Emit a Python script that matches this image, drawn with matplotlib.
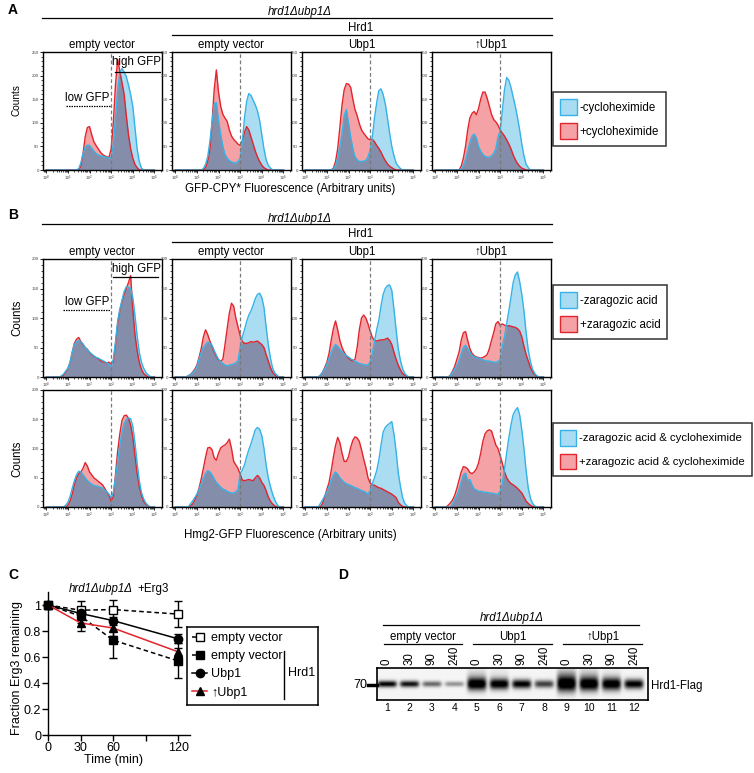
import numpy as np
import matplotlib
matplotlib.use("Agg")
import matplotlib.pyplot as plt
from matplotlib.lines import Line2D
from matplotlib.patches import Patch
from matplotlib.ticker import MultipleLocator, LogLocator, LogFormatterMathtext, NullFormatter

plt.rcParams['font.family'] = ['Liberation Sans', 'DejaVu Sans']
plt.rcParams['mathtext.fontset'] = 'custom'
plt.rcParams['mathtext.rm'] = 'Liberation Sans'

W, H = 754, 773

# ---- flow cytometry histograms: counts at log10(fluorescence) = start, start+0.1, ...
LOG_BINS = np.linspace(0, 5, 51)

# A: GFP-CPY*, -/+ cycloheximide
a_ev_minus = (1.4, [0, 3, 15, 35, 48, 53, 52, 46, 40, 35, 32, 30, 29, 28, 27, 26, 26, 55, 110, 170,
                    205, 215, 208, 198, 180, 160, 135, 90, 45, 18, 4, 0])
a_ev_plus = (1.5, [0, 8, 35, 70, 90, 92, 75, 60, 52, 45, 38, 33, 30, 28, 27, 45, 100, 180, 235, 210,
                   185, 160, 115, 75, 45, 25, 12, 5, 0])
a_hev_minus = (1.2, [0, 3, 12, 28, 60, 100, 140, 143, 105, 75, 50, 33, 25, 20, 17, 15, 15, 18, 25, 60,
                     110, 145, 162, 158, 148, 138, 125, 105, 75, 45, 22, 10, 4, 0])
a_hev_plus = (1.3, [0, 5, 18, 42, 100, 170, 212, 165, 135, 118, 110, 103, 85, 72, 65, 60, 55, 52, 62,
                    80, 92, 85, 70, 55, 40, 28, 18, 10, 5, 2, 0])
a_ubp_minus = (1.2, [0, 3, 10, 25, 50, 78, 115, 128, 100, 70, 45, 28, 22, 18, 18, 19, 20, 28, 42, 70,
                     110, 142, 168, 172, 160, 140, 110, 78, 50, 30, 15, 8, 3, 0])
a_ubp_plus = (1.2, [0, 4, 18, 45, 90, 138, 170, 183, 182, 175, 150, 128, 115, 98, 85, 78, 72, 66, 64,
                    65, 60, 52, 46, 38, 28, 20, 13, 8, 5, 2, 0])
a_up_minus = (1.1, [0, 2, 10, 22, 40, 58, 72, 76, 68, 50, 40, 33, 29, 27, 27, 30, 35, 45, 70, 82, 125,
                    170, 196, 190, 175, 155, 135, 112, 85, 55, 30, 12, 5, 0])
a_up_plus = (1.1, [0, 8, 25, 50, 85, 110, 120, 124, 117, 130, 150, 165, 165, 152, 135, 118, 107, 102,
                   95, 85, 78, 72, 64, 55, 45, 32, 22, 14, 8, 4, 2, 0])

# B: Hmg2-GFP, -/+ zaragozic acid
b_ev_minus = (0.6, [0, 2, 5, 10, 15, 25, 42, 55, 60, 62, 60, 56, 50, 46, 42, 39, 36, 33, 32, 30, 28,
                    26, 24, 21, 18, 30, 60, 95, 115, 130, 145, 153, 152, 150, 135, 105, 70, 42, 25,
                    15, 8, 4, 1, 0])
b_ev_plus = (0.7, [0, 3, 8, 14, 24, 42, 57, 64, 67, 60, 55, 50, 47, 42, 38, 35, 33, 31, 28, 26, 25,
                   24, 25, 22, 25, 55, 90, 112, 128, 140, 150, 160, 172, 115, 72, 45, 25, 13, 6, 3, 0])
b_hev_minus = (0.5, [0, 2, 4, 7, 11, 18, 30, 42, 50, 55, 59, 57, 54, 45, 37, 30, 26, 23, 20, 19, 20,
                     21, 22, 24, 28, 50, 68, 80, 94, 105, 112, 122, 133, 140, 142, 135, 118, 85, 55,
                     32, 15, 7, 3, 0])
b_hev_plus = (0.5, [0, 2, 4, 8, 13, 20, 33, 48, 68, 80, 72, 61, 52, 42, 35, 29, 27, 30, 55, 82, 108,
                    125, 120, 100, 85, 70, 60, 57, 57, 58, 60, 59, 60, 61, 58, 55, 50, 38, 27, 16, 8,
                    4, 1, 0])
b_ubp_minus = (0.6, [0, 3, 8, 14, 22, 32, 42, 50, 55, 52, 47, 43, 39, 36, 34, 31, 29, 27, 25, 23, 22,
                     21, 20, 21, 25, 40, 60, 80, 96, 120, 140, 150, 155, 156, 147, 115, 80, 48, 28,
                     14, 6, 2, 0])
b_ubp_plus = (0.6, [0, 3, 8, 16, 25, 40, 62, 82, 95, 80, 62, 50, 42, 36, 32, 29, 27, 30, 50, 80, 100,
                    105, 100, 90, 78, 67, 62, 61, 62, 63, 63, 64, 66, 62, 55, 42, 30, 20, 12, 6, 3,
                    1, 0])
b_up_minus = (0.6, [0, 3, 8, 14, 20, 28, 40, 50, 54, 48, 42, 37, 34, 33, 32, 31, 29, 28, 27, 27, 26,
                    25, 25, 26, 30, 52, 68, 90, 112, 135, 160, 173, 178, 162, 140, 112, 75, 45, 26,
                    13, 6, 2, 0])
b_up_plus = (0.6, [0, 3, 10, 18, 30, 42, 62, 75, 77, 62, 48, 40, 36, 34, 33, 32, 33, 35, 38, 48, 62,
                   75, 90, 94, 88, 90, 88, 86, 87, 86, 85, 84, 82, 78, 68, 52, 38, 27, 16, 9, 4, 1, 0])

# B (lower row): -/+ zaragozic acid & cycloheximide
c_ev_minus = (0.8, [0, 3, 8, 18, 32, 45, 55, 61, 60, 55, 50, 45, 42, 39, 37, 36, 35, 34, 32, 29, 26,
                    22, 16, 25, 50, 78, 105, 128, 143, 150, 152, 151, 138, 110, 75, 45, 25, 14, 7, 3, 0])
c_ev_plus = (0.9, [0, 3, 10, 22, 38, 50, 57, 60, 66, 76, 70, 60, 55, 50, 47, 44, 41, 38, 32, 26, 20,
                   10, 18, 55, 95, 125, 148, 156, 157, 152, 140, 120, 88, 58, 35, 20, 10, 5, 2, 0])
c_hev_minus = (0.6, [0, 5, 10, 16, 22, 30, 40, 49, 57, 62, 60, 55, 48, 42, 38, 34, 31, 29, 27, 25,
                     24, 24, 26, 30, 58, 63, 72, 86, 98, 108, 120, 132, 136, 133, 122, 100, 72, 50,
                     35, 22, 12, 5, 0])
c_hev_plus = (0.6, [0, 2, 5, 12, 20, 32, 48, 66, 85, 101, 102, 98, 84, 80, 92, 101, 104, 106, 110,
                    116, 100, 78, 72, 66, 56, 46, 45, 46, 47, 46, 45, 50, 54, 50, 42, 37, 28, 17, 10,
                    5, 2, 0])
c_ubp_minus = (0.6, [0, 6, 12, 19, 26, 35, 46, 55, 60, 56, 50, 46, 42, 40, 38, 37, 35, 33, 32, 30,
                     28, 27, 25, 22, 28, 40, 50, 62, 80, 105, 128, 136, 140, 143, 146, 125, 95, 58,
                     35, 16, 6, 2, 0])
c_ubp_plus = (0.7, [0, 6, 18, 30, 42, 62, 85, 105, 119, 110, 92, 78, 78, 86, 102, 114, 120, 118, 112,
                    98, 82, 68, 50, 41, 38, 37, 35, 33, 32, 30, 28, 26, 24, 22, 19, 16, 8, 4, 1, 0])
c_up_minus = (0.7, [0, 6, 13, 20, 30, 43, 55, 58, 45, 47, 38, 31, 29, 27, 27, 26, 25, 25, 24, 24, 23,
                    22, 22, 27, 40, 65, 92, 118, 140, 158, 165, 170, 158, 132, 100, 62, 32, 15, 6, 2, 0])
c_up_plus = (0.5, [0, 3, 7, 12, 20, 32, 46, 60, 69, 68, 65, 59, 57, 60, 65, 75, 92, 112, 125, 130, 132,
                   130, 118, 106, 100, 88, 75, 60, 50, 44, 40, 38, 35, 32, 28, 24, 17, 10, 6, 3, 1, 0])

hist_titles = ["empty vector", "empty vector", "Ubp1", "\u2191Ubp1"]

# ---- C: Erg3 degradation
time_min = [0, 30, 60, 120]
erg3_ev = [1.0, 0.96, 0.965, 0.93]
erg3_ev_err = [0, 0.07, 0.07, 0.10]
erg3_hrd1_ev = [1.0, 0.915, 0.73, 0.57]
erg3_hrd1_ev_err = [0, 0.05, 0.14, 0.135]
erg3_hrd1_ubp1 = [1.0, 0.935, 0.88, 0.74]
erg3_hrd1_ubp1_err = [0, 0.04, 0.03, 0.035]
erg3_hrd1_ubp1_up = [1.0, 0.862, 0.823, 0.64]
erg3_hrd1_ubp1_up_err = [0, 0.065, 0.06, 0.03]

# ---- D: Hrd1-Flag western blot
lanes = list(range(1, 13))
lane_times = ["0", "30", "90", "240"] * 3
lane_groups = ["empty vector", "Ubp1", "\u2191Ubp1"]
band_intensity = [0.88, 0.82, 0.5, 0.35, 1.0, 0.95, 0.9, 0.65, 1.0, 1.0, 0.97, 0.9]
band_thickness = [0.10, 0.10, 0.09, 0.08, 0.20, 0.17, 0.14, 0.12, 0.25, 0.22, 0.2, 0.15]
band_haze = [0, 0, 0, 0, 0.12, 0.06, 0, 0, 0.22, 0.15, 0.05, 0]

RED_LINE = '#e2242c'
RED_FILL = '#f5a2a6'
BLUE_LINE = '#35b3e6'
BLUE_FILL = '#43b2e4'
SLATE = '#4a5a80'

fig = plt.figure(figsize=(W / 100, H / 100), dpi=100)


def add_ax(l, t, r, b):
    return fig.add_axes([l / W, 1 - b / H, (r - l) / W, (b - t) / H])


def ftext(x, y, s, **kw):
    kw.setdefault('ha', 'center')
    kw.setdefault('va', 'center')
    fig.text(x / W, 1 - y / H, s, **kw)


def fline(x0, x1, y0, y1=None, **kw):
    y1 = y0 if y1 is None else y1
    kw.setdefault('color', 'black')
    kw.setdefault('lw', 0.9)
    fig.add_artist(Line2D([x0 / W, x1 / W], [1 - y0 / H, 1 - y1 / H], **kw))


def counts(series):
    start, vals = series
    out = np.zeros(len(LOG_BINS))
    i = int(round(start * 10))
    out[i:i + len(vals)] = vals
    return out


def flow_panel(ax, minus, plus, ymax):
    xs = 10 ** LOG_BINS
    b = counts(minus)
    r = counts(plus)
    ax.fill_between(xs, r, color=RED_FILL, lw=0)
    ax.plot(xs, r, color=RED_LINE, lw=1.0)
    ax.fill_between(xs, b, color=BLUE_FILL, alpha=0.45, lw=0)
    ax.fill_between(xs, np.minimum(b, r), color=SLATE, alpha=0.35, lw=0)
    ax.plot(xs, b, color=BLUE_LINE, lw=1.0)
    ax.axvline(1e3, color='#7a7a7a', ls=(0, (3, 2)), lw=0.9)
    ax.set_xscale('log')
    ax.set_xlim(10 ** -0.15, 10 ** 5.35)
    ax.set_ylim(0, ymax)
    ax.xaxis.set_major_locator(LogLocator(base=10, numticks=10))
    ax.xaxis.set_major_formatter(LogFormatterMathtext())
    ax.xaxis.set_minor_locator(LogLocator(base=10, subs=np.arange(2, 10), numticks=10))
    ax.xaxis.set_minor_formatter(NullFormatter())
    ax.yaxis.set_major_locator(MultipleLocator(50))
    ax.yaxis.set_minor_locator(MultipleLocator(10))
    ax.tick_params(which='major', direction='out', length=2.5, width=0.6, labelsize=3.2, pad=0.3,
                   labelcolor='#444444')
    ax.tick_params(which='minor', direction='out', length=1.3, width=0.5)
    for s in ax.spines.values():
        s.set_linewidth(1.0)


# ================= A =================
colsx = [(43, 162), (172, 291), (302, 421), (432, 551)]
rowA = [(a_ev_minus, a_ev_plus), (a_hev_minus, a_hev_plus),
        (a_ubp_minus, a_ubp_plus), (a_up_minus, a_up_plus)]
axA = []
for (l, r), (mi, pl), title in zip(colsx, rowA, hist_titles):
    ax = add_ax(l, 52, r, 170)
    flow_panel(ax, mi, pl, 250)
    ftext((l + r) / 2, 45, title, fontsize=8.3)
    axA.append(ax)

ftext(8, 10, "A", fontsize=10, fontweight='bold', ha='left')
ftext(300, 12, "hrd1\u0394ubp1\u0394", fontsize=8.3, style='italic')
fline(42, 552, 18)
ftext(361, 28, "Hrd1", fontsize=8.3)
fline(172, 552, 35)
ftext(17, 100, "Counts", fontsize=7.2, rotation=90)
ftext(290, 189, "GFP-CPY* Fluorescence (Arbitrary units)", fontsize=8.3)

ax = axA[0]
ax.plot([10 ** 0.92, 10 ** 2.95], [135, 135], color='black', ls=(0, (1.2, 0.8)), lw=0.9)
ax.text(10 ** 2.92, 152, "low GFP", fontsize=8.3, ha='right', va='center')
ax.plot([10 ** 3.17, 10 ** 5.25], [208, 208], color='black', lw=0.9)
ax.text(10 ** 3.05, 229, "high GFP", fontsize=8.3, ha='left', va='center')

legend_kw = dict(loc='upper left', frameon=True, fancybox=False, edgecolor='black',
                 fontsize=8.3, handlelength=1.45, handleheight=1.75, handletextpad=0.25,
                 labelspacing=0.7, borderpad=0.6, borderaxespad=0)


def patch_handles():
    return [Patch(facecolor='#a9dcf3', edgecolor=BLUE_LINE, lw=1.0),
            Patch(facecolor=RED_FILL, edgecolor=RED_LINE, lw=1.0)]


leg = fig.legend(patch_handles(), ["-cycloheximide", "+cycloheximide"],
                 bbox_to_anchor=(553 / W, 1 - 92 / H), **legend_kw)
leg.get_frame().set_linewidth(1.1)

# ================= B =================
rowB1 = [(b_ev_minus, b_ev_plus), (b_hev_minus, b_hev_plus),
         (b_ubp_minus, b_ubp_plus), (b_up_minus, b_up_plus)]
rowB2 = [(c_ev_minus, c_ev_plus), (c_hev_minus, c_hev_plus),
         (c_ubp_minus, c_ubp_plus), (c_up_minus, c_up_plus)]
axB = []
for (l, r), (mi, pl), title in zip(colsx, rowB1, hist_titles):
    ax = add_ax(l, 259, r, 377)
    flow_panel(ax, mi, pl, 200)
    ftext((l + r) / 2, 252, title, fontsize=8.3)
    axB.append(ax)
for (l, r), (mi, pl) in zip(colsx, rowB2):
    ax = add_ax(l, 390, r, 507)
    flow_panel(ax, mi, pl, 200)

ftext(8, 215, "B", fontsize=10, fontweight='bold', ha='left')
ftext(300, 219, "hrd1\u0394ubp1\u0394", fontsize=8.3, style='italic')
fline(42, 552, 224)
ftext(361, 234, "Hrd1", fontsize=8.3)
fline(172, 552, 242)
ftext(17, 318, "Counts", fontsize=8.3, rotation=90)
ftext(17, 459, "Counts", fontsize=8.3, rotation=90)
ftext(290, 535, "Hmg2-GFP Fluorescence (Arbitrary units)", fontsize=8.3)

ax = axB[0]
ax.plot([10 ** 0.77, 10 ** 2.95], [114, 114], color='black', ls=(0, (1.2, 0.8)), lw=0.9)
ax.text(10 ** 2.92, 127, "low GFP", fontsize=8.3, ha='right', va='center')
ax.plot([10 ** 3.08, 10 ** 5.16], [169, 169], color='black', lw=0.9)
ax.text(10 ** 3.02, 183, "high GFP", fontsize=8.3, ha='left', va='center')

leg = fig.legend(patch_handles(), ["-zaragozic acid", "+zaragozic acid"],
                 bbox_to_anchor=(553 / W, 1 - 285 / H), **legend_kw)
leg.get_frame().set_linewidth(1.1)
leg = fig.legend(patch_handles(), ["-zaragozic acid & cycloheximide", "+zaragozic acid & cycloheximide"],
                 bbox_to_anchor=(553 / W, 1 - 423 / H), **dict(legend_kw, fontsize=8.2))
leg.get_frame().set_linewidth(1.1)

# ================= C =================
axC = add_ax(48, 592, 190, 735)
series = [
    (erg3_ev, erg3_ev_err, dict(color='black', ls=(0, (3, 2)), marker='s', mfc='white')),
    (erg3_hrd1_ev, erg3_hrd1_ev_err, dict(color='black', ls=(0, (3, 2)), marker='s', mfc='black')),
    (erg3_hrd1_ubp1, erg3_hrd1_ubp1_err, dict(color='black', ls='-', marker='o', mfc='black')),
    (erg3_hrd1_ubp1_up, erg3_hrd1_ubp1_up_err, dict(color=RED_LINE, ls='-', marker='^', mfc='black')),
]
for vals, err, st in series:
    axC.errorbar(time_min, vals, yerr=err, ecolor='black', elinewidth=1.0, capsize=3, capthick=1.0,
                 mec='black', ms=6, lw=1.1, clip_on=False, zorder=3, **st)
axC.set_xlim(0, 131)
axC.set_ylim(0, 1.1)
axC.set_xticks([0, 30, 60, 90, 120])
axC.set_xticklabels(["0", "30", "60", "", "120"])
axC.set_yticks([0, 0.2, 0.4, 0.6, 0.8, 1.0])
axC.set_yticklabels(["0", "0.2", "0.4", "0.6", "0.8", "1"])
axC.spines['top'].set_visible(False)
axC.spines['right'].set_visible(False)
for s in ['left', 'bottom']:
    axC.spines[s].set_linewidth(1.0)
axC.tick_params(direction='out', length=4, width=1.0, labelsize=9, pad=1)

ftext(8, 575, "C", fontsize=10, fontweight='bold', ha='left')
ftext(133, 589, "hrd1\u0394ubp1\u0394", fontsize=8.3, style='italic', ha='right')
ftext(137, 589, "+Erg3", fontsize=8.3, ha='left')
ftext(113, 760, "Time (min)", fontsize=9)
ftext(17, 668, "Fraction Erg3 remaining", fontsize=9, rotation=90)

axL = add_ax(187, 627, 318, 705)
axL.set_xticks([])
axL.set_yticks([])
for s in axL.spines.values():
    s.set_linewidth(1.1)
handles = [Line2D([], [], mec='black', ms=6, lw=1.1, **st) for _, _, st in series]
axL.legend(handles, ["empty vector", "empty vector", "Ubp1", "\u2191Ubp1"], loc='upper left',
           bbox_to_anchor=(0, 1), frameon=False, fontsize=9, handlelength=1.2, handletextpad=0.35,
           labelspacing=0.5, borderpad=0.4, borderaxespad=0)
fline(284, 284, 651, 699, lw=1.0)
ftext(288, 673, "Hrd1", fontsize=9, ha='left')

# ================= D =================
axD = add_ax(377, 668, 648, 700)
x_lo, x_hi = 0.555, 12.62
gx = np.linspace(x_lo, x_hi, 700)
gy = np.linspace(0, 1, 120)
XX, YY = np.meshgrid(gx, gy)
dark = np.zeros_like(XX)
for ln, inten, th, hz in zip(lanes, band_intensity, band_thickness, band_haze):
    hprof = np.exp(-((XX - ln) / 0.43) ** 6)
    vprof = np.exp(-((YY - 0.5) / th) ** 2)
    haze = hz * np.exp(-((YY - 0.8) / 0.25) ** 2)
    dark += hprof * (inten * 1.15 * vprof + haze)
img = 0.96 - 0.96 * np.clip(dark, 0, 1)
axD.imshow(img, cmap='gray', vmin=0, vmax=1, extent=[x_lo, x_hi, 0, 1], origin='lower',
           aspect='auto', interpolation='bilinear')
axD.set_xlim(x_lo, x_hi)
axD.set_ylim(0, 1)
axD.set_xticks([])
axD.set_yticks([])
for s in axD.spines.values():
    s.set_linewidth(1.2)

trD = axD.get_xaxis_transform()


def yfrac(py):
    return (700 - py) / 32


for ln, t in zip(lanes, lane_times):
    axD.text(ln, yfrac(665), t, rotation=90, ha='center', va='bottom', fontsize=8.3,
             transform=trD, clip_on=False)
    axD.text(ln, yfrac(708), str(ln), ha='center', va='center', fontsize=7.5,
             transform=trD, clip_on=False)
for gi, name in enumerate(lane_groups):
    g0 = lanes[gi * 4] - 0.15
    g1 = lanes[gi * 4 + 3] + 0.35
    axD.add_line(Line2D([g0, g1], [yfrac(644)] * 2, color='black', lw=0.9, transform=trD, clip_on=False))
    axD.text((g0 + g1) / 2, yfrac(637), name, ha='center', va='center', fontsize=8.3,
             transform=trD, clip_on=False)
axD.add_line(Line2D([0.82, 12.23], [yfrac(625)] * 2, color='black', lw=0.9, transform=trD, clip_on=False))
axD.text(6.55, yfrac(618), "hrd1\u0394ubp1\u0394", ha='center', va='center', fontsize=8.3,
         style='italic', transform=trD, clip_on=False)

ftext(338, 575, "D", fontsize=10, fontweight='bold', ha='left')
ftext(367, 685, "70", fontsize=9, ha='right')
fline(368, 377, 685, lw=2.5)
ftext(651, 686, "Hrd1-Flag", fontsize=8.3, ha='left')

fig.savefig("out.png", dpi=100)
